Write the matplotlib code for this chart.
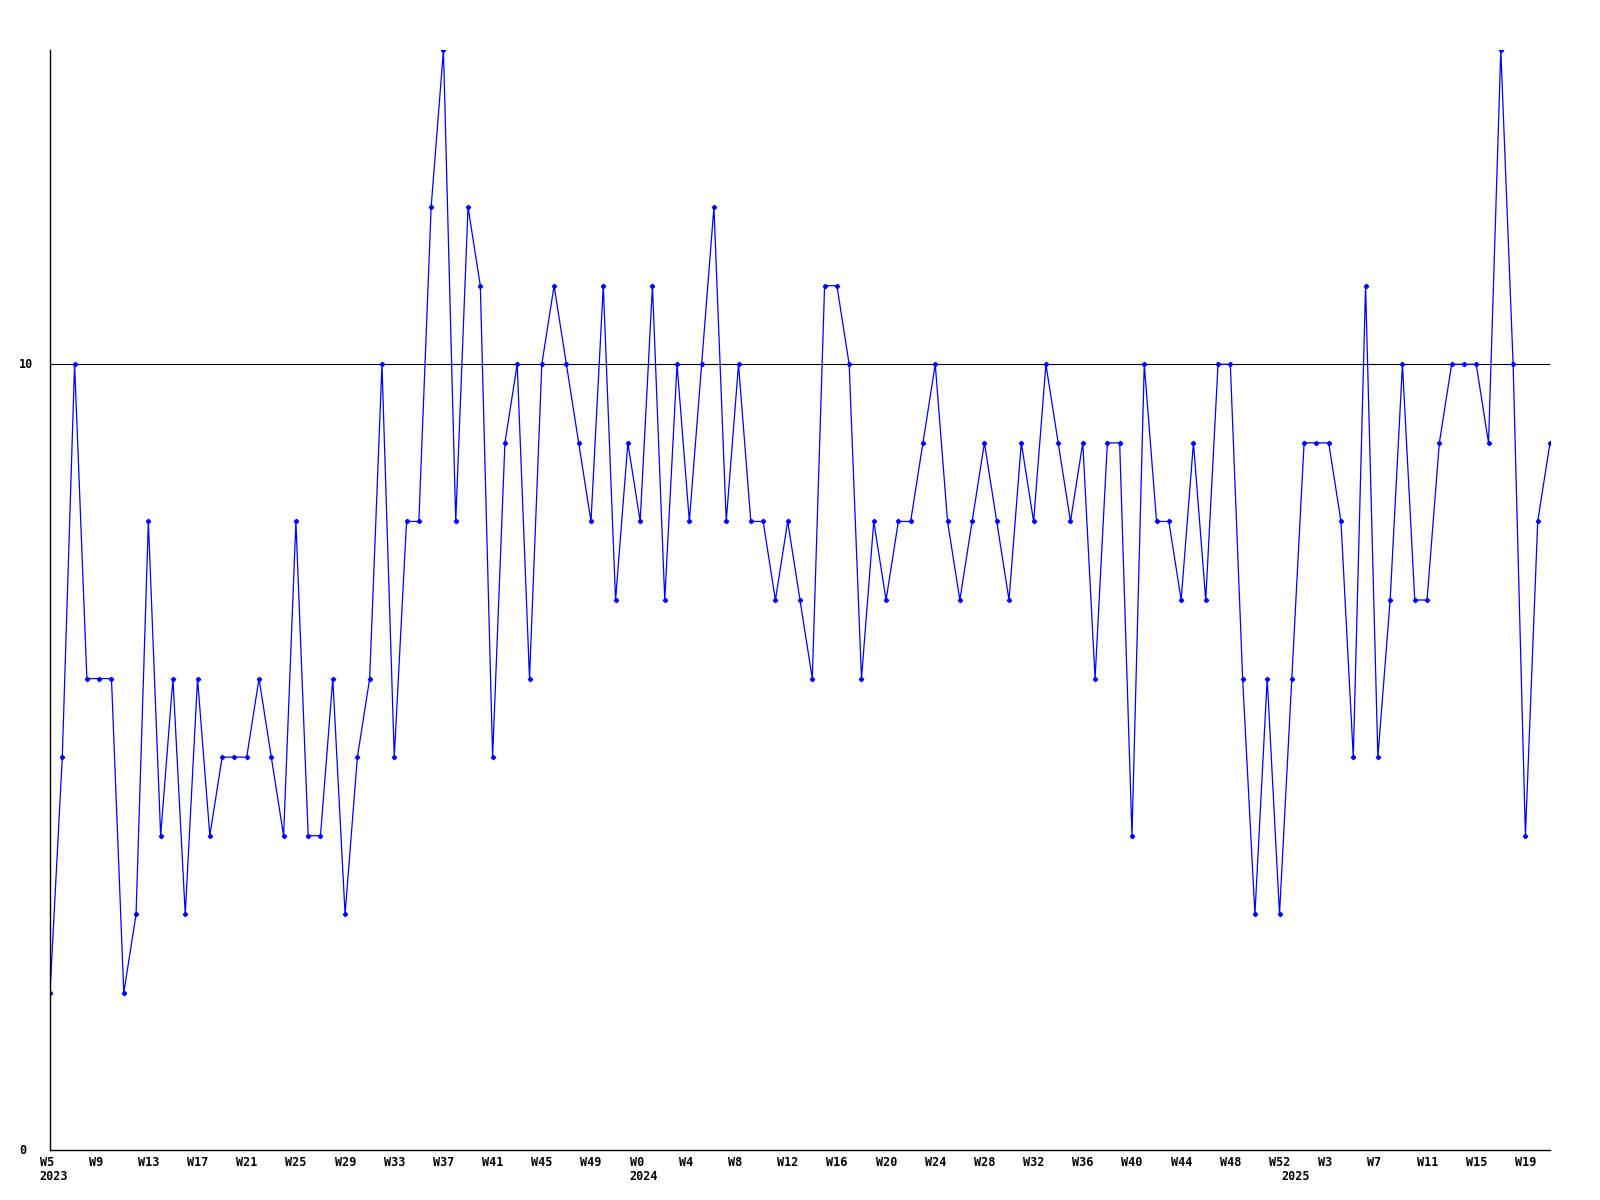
import matplotlib
matplotlib.use('Agg')
import matplotlib.pyplot as plt
import matplotlib.transforms as mtransforms

# weekly values, 2023 W5 .. 2025 W21
weeks_2023 = list(range(5, 53))
weeks_2024 = list(range(0, 53))
weeks_2025 = list(range(0, 22))

vals_2023 = [2, 5, 10, 6, 6, 6, 2, 3, 8, 4, 6, 3, 6, 4, 5, 5, 5, 6, 5, 4, 8,
             4, 4, 6, 3, 5, 6, 10, 5, 8, 8, 12, 14, 8, 12, 11, 5, 9, 10, 6, 10,
             11, 10, 9, 8, 11, 7, 9]
vals_2024 = [8, 11, 7, 10, 8, 10, 12, 8, 10, 8, 8, 7, 8, 7,
             6, 11, 11, 10, 6, 8, 7, 8, 8, 9, 10, 8, 7, 8, 9, 8, 7, 9, 8, 10,
             9, 8, 9, 6, 9, 9, 4, 10, 8, 8, 7, 9, 7, 10, 10, 6, 3, 6, 3]
vals_2025 = [6, 9, 9, 9, 8, 5, 11, 5, 7, 10, 7, 7, 9, 10, 10, 10, 9, 14, 10, 4, 8, 9]

years = [2023, 2024, 2025]
y_ticks = [0, 10]

week_labels = (['W%d' % w for w in weeks_2023] + ['W%d' % w for w in weeks_2024]
               + ['W%d' % w for w in weeks_2025])
values = vals_2023 + vals_2024 + vals_2025
year_starts = [0, len(weeks_2023), len(weeks_2023) + len(weeks_2024)]
x = list(range(len(values)))

fig = plt.figure(figsize=(16, 12), dpi=100)
ax = fig.add_axes([50 / 1600, 50 / 1200, 1500 / 1600, 1100 / 1200])

ax.plot(x, values, color='#0000ff', lw=0.9, marker='D', ms=2.2, mfc='#0000ff', mec='#0000ff')
ax.axhline(10, color='black', lw=0.8, zorder=0)

ax.set_xlim(0, len(values) - 1)
ax.set_ylim(0, 14)
for s in ['top', 'right']:
    ax.spines[s].set_visible(False)
for s in ['left', 'bottom']:
    ax.spines[s].set_linewidth(1.0)
ax.set_xticks([])
ax.set_yticks([])

font = dict(family='DejaVu Sans Mono', weight='bold', fontsize=8.5)

# x labels every 4 weeks, left aligned a bit before the point
xt = ax.get_xaxis_transform()
off_w = xt + mtransforms.ScaledTranslation(-10.5 / 100, -12 / 100, fig.dpi_scale_trans)
off_y = xt + mtransforms.ScaledTranslation(-10.5 / 100, -27 / 100, fig.dpi_scale_trans)
for i in range(0, len(values), 4):
    ax.text(i, 0, week_labels[i], transform=off_w, ha='left', va='center', **font)
for yr, i in zip(years, year_starts):
    ax.text(i, 0, str(yr), transform=off_y, ha='left', va='center', **font)

# y labels, left aligned ~31px left of the axis
yt = ax.get_yaxis_transform()
for v in y_ticks:
    ax.text(-31 / 1500, v, str(v), transform=yt, ha='left', va='center', **font)

fig.savefig('out.png', dpi=100)
